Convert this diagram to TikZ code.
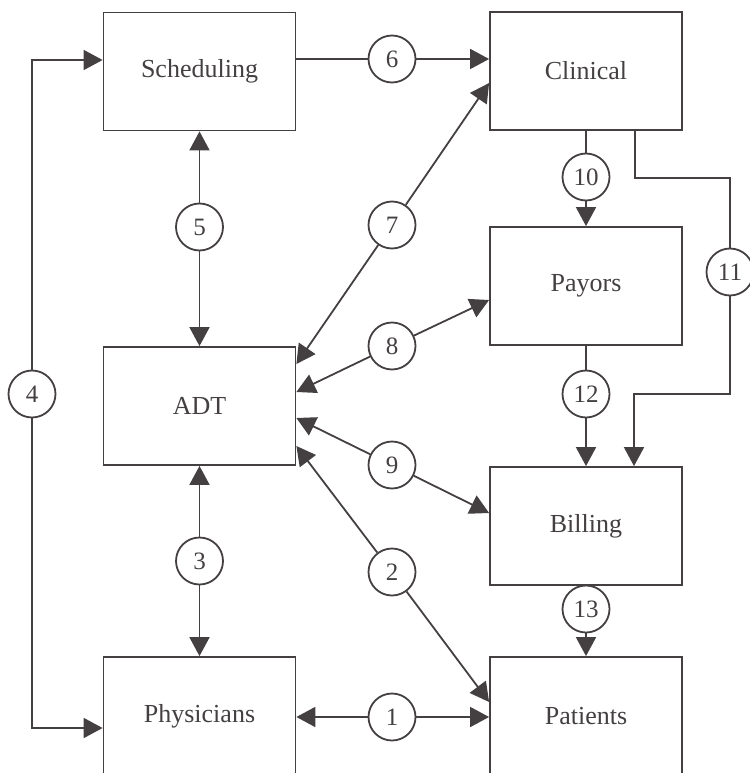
\documentclass[tikz,border=0pt]{standalone}
\usepackage{fontspec}
\setmainfont{Liberation Serif}
\usetikzlibrary{arrows.meta}

\definecolor{ink}{RGB}{68,64,66}

\begin{document}
\begin{tikzpicture}[x=1pt, y=-1pt, line width=1.8pt, color=ink,
    system/.style={draw, rectangle, minimum width=192pt, minimum height=118pt,
        inner sep=0pt, font=\fontsize{26}{30}\selectfont},
    flow/.style={draw, circle, fill=white, minimum size=47pt, inner sep=0pt,
        font=\fontsize{25}{30}\selectfont},
    arr/.style={-{Triangle[length=19pt, width=20pt]}}]
\useasboundingbox (0,0) rectangle (749,773);

% Systems
\node[system] (sched) at (199.5, 71.5) {Scheduling};
\node[system] (clin)  at (586, 71)     {Clinical};
\node[system] (pay)   at (586, 286)    {Payors};
\node[system] (adt)   at (199.5, 406)  {ADT};
\node[system] (bill)  at (586, 526)    {Billing};
\node[system] (phys)  at (199.5, 716)  {Physicians};
\node[system] (pat)   at (586, 716)    {Patients};

% Interfaces
\node[flow] (c1)  at (392, 717)   {1};
\node[flow] (c2)  at (392, 572)   {2};
\node[flow] (c3)  at (199.5, 561) {3};
\node[flow] (c4)  at (32, 394)    {4};
\node[flow] (c5)  at (199.5, 227) {5};
\node[flow] (c6)  at (392, 59)    {6};
\node[flow] (c7)  at (392, 225)   {7};
\node[flow] (c8)  at (392, 346)   {8};
\node[flow] (c9)  at (392, 465)   {9};
\node[flow] (c10) at (586, 177)   {10};
\node[flow] (c11) at (730, 272)   {11};
\node[flow] (c12) at (586, 394)   {12};
\node[flow] (c13) at (586, 609)   {13};

% Left column
\draw[arr] (c5) -- (sched.south);
\draw[arr] (c5) -- (adt.north);
\draw[arr] (c3) -- (adt.south);
\draw[arr] (c3) -- (phys.north);
\draw[arr] (c4) |- ([yshift=11.5pt]sched.west);
\draw[arr] (c4) |- ([yshift=-12pt]phys.west);

% Across
\draw (sched.east |- c6) -- (c6);
\draw[arr] (c6) -- (clin.west |- c6);
\draw[arr] (c7) -- ([yshift=-12pt]clin.west);
\draw[arr] (c7) -- ([yshift=42pt]adt.east);
\draw[arr] (c8) -- ([yshift=-14pt]pay.west);
\draw[arr] (c8) -- ([yshift=14pt]adt.east);
\draw[arr] (c9) -- ([yshift=13pt]bill.west);
\draw[arr] (c9) -- ([yshift=-12pt]adt.east);
\draw[arr] (c2) -- ([yshift=14pt]pat.west);
\draw[arr] (c2) -- ([yshift=-40pt]adt.east);
\draw[arr] (c1) -- (phys.east |- c1);
\draw[arr] (c1) -- (pat.west |- c1);

% Right column
\draw (clin.south) -- (c10);
\draw[arr] (c10) -- (pay.north);
\draw (pay.south) -- (c12);
\draw[arr] (c12) -- (bill.north);
\draw (bill.south) -- (c13);
\draw[arr] (c13) -- (pat.north);
\draw ([xshift=49pt]clin.south) |- (c11.center |- 0,178) -- (c11);
\draw[arr] (c11) |- ([xshift=48pt]bill.north |- 0,394) -- ([xshift=48pt]bill.north);
\end{tikzpicture}
\end{document}
